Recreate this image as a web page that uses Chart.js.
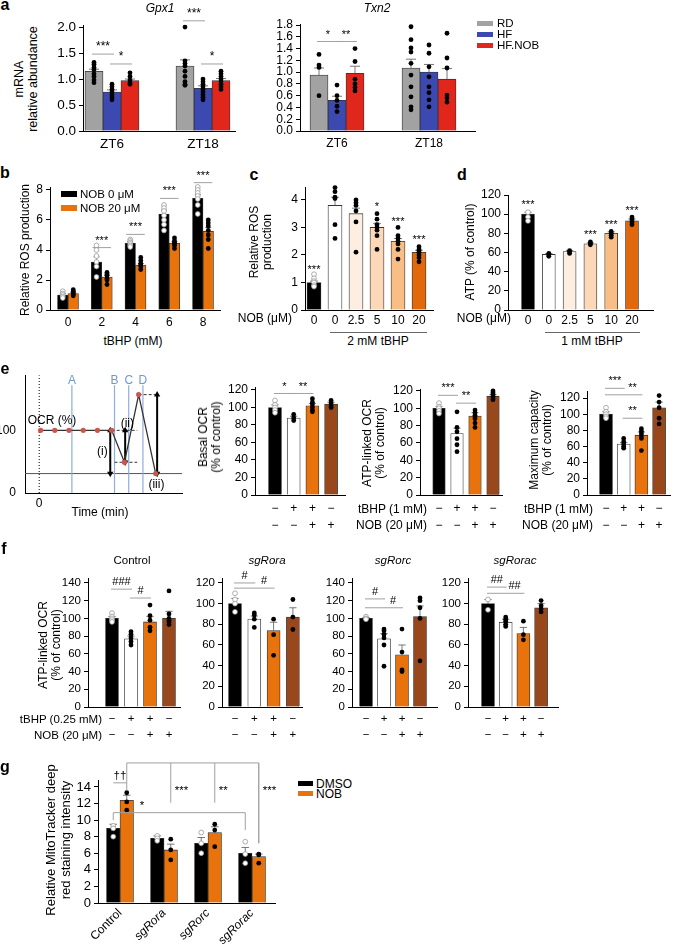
<!DOCTYPE html>
<html>
<head>
<meta charset="utf-8">
<script src="https://cdn.jsdelivr.net/npm/chart.js@4.4.1/dist/chart.umd.min.js"></script>
<style>
body{margin:0;background:#fff}
#fig{position:relative;width:676px;height:944px;overflow:hidden;font-family:"Liberation Sans",Arial,sans-serif;color:#000}
#fig canvas{position:absolute}
.t{position:absolute;font-size:11.5px;line-height:13px;white-space:nowrap}
.box{position:absolute}
</style>
</head>
<body>
<div id="fig"></div>
<script>
// ---- a: mRNA ----
const aCats = ['ZT6', 'ZT18'];
const aNames = ['RD', 'HF', 'HF.NOB'];
const aColors = ['#a2a2a2', '#3b49b0', '#e1261c'];
const gpxRD = [1.15, 1.25], gpxRDerr = [0.04, 0.12];
const gpxRDdots = [[1.32, 1.28, 1.22, 1.18, 1.1, 1.05, 0.98, 0.93], [2.0, 1.35, 1.3, 1.25, 1.15, 1.05, 0.95, 0.9, 0.88]];
const gpxHF = [0.75, 0.82], gpxHFerr = [0.04, 0.05];
const gpxHFdots = [[0.9, 0.85, 0.8, 0.75, 0.7, 0.65, 0.6], [1.0, 0.95, 0.9, 0.85, 0.8, 0.75, 0.7, 0.65, 0.6]];
const gpxNOB = [0.97, 0.97], gpxNOBerr = [0.03, 0.04];
const gpxNOBdots = [[1.12, 1.05, 0.98, 0.93, 0.9], [1.15, 1.1, 1.05, 1.0, 0.95, 0.9, 0.85, 0.8]];
const txnRD = [0.95, 1.07], txnRDerr = [0.12, 0.15];
const txnRDdots = [[1.3, 1.12, 1.08, 0.6], [1.77, 1.55, 1.41, 1.34, 1.15, 0.95, 0.75, 0.58, 0.41, 0.36]];
const txnHF = [0.52, 1.0], txnHFerr = [0.07, 0.13];
const txnHFdots = [[0.78, 0.6, 0.52, 0.42, 0.33], [1.46, 1.32, 1.09, 0.92, 0.75, 0.65, 0.53, 0.41]];
const txnNOB = [0.98, 0.88], txnNOBerr = [0.12, 0.18];
const txnNOBdots = [[1.4, 1.18, 0.88, 0.8, 0.74, 0.68], [1.66, 1.24, 1.07, 0.61, 0.56, 0.49]];

// ---- b: ROS vs tBHP ----
const bCats = ['0', '2', '4', '6', '8'];
const rosNob0 = [1.0, 3.2, 4.45, 6.4, 7.45], rosNob0err = [0.1, 0.35, 0.1, 0.25, 0.25];
const rosNob0dots = [[1.25, 1.1, 1.0, 0.9, 0.8], [4.3, 4.0, 3.6, 3.2, 2.9, 2.2], [4.7, 4.6, 4.5, 4.4, 4.3, 4.2], [7.0, 6.8, 6.6, 6.3, 6.0, 5.7, 5.3], [8.2, 8.0, 7.8, 7.6, 7.4, 7.0, 6.4]];
const rosNob20 = [1.1, 2.2, 3.0, 4.45, 5.25], rosNob20err = [0.08, 0.12, 0.1, 0.12, 0.25];
const rosNob20dots = [[1.35, 1.25, 1.15, 1.05, 0.95], [2.5, 2.4, 2.3, 2.1, 2.0, 1.7], [3.5, 3.3, 3.1, 3.0, 2.9, 2.7], [4.8, 4.6, 4.5, 4.4, 4.3, 4.1], [6.0, 5.8, 5.6, 5.3, 5.0, 4.7, 4.1]];

// ---- c, d: NOB dose ----
const doseCats = ['0', '0', '2.5', '5', '10', '20'];
const doseColors = ['#000', '#fff', '#fdeee2', '#fcd8b8', '#f9bd86', '#e2680c'];
const cRos = [1.0, 3.8, 3.5, 3.0, 2.5, 2.1], cRosErr = [0.05, 0.3, 0.2, 0.15, 0.1, 0.07];
const cRosDots = [[1.3, 1.15, 1.05, 1.0, 0.9, 0.85], [4.45, 4.3, 4.1, 4.05, 3.1, 2.6], [4.0, 3.9, 3.8, 3.6, 3.2, 2.1], [3.5, 3.3, 3.1, 3.0, 2.9, 2.7, 2.2], [3.0, 2.7, 2.6, 2.5, 2.4, 2.2, 1.85], [2.3, 2.2, 2.15, 2.1, 2.0, 1.9, 1.75]];
const dAtp = [100, 58, 61, 69, 80, 93], dAtpErr = [2, 1, 1, 1, 1.5, 2];
const dAtpDots = [[102, 97, 93], [59, 57.5, 56], [62, 60.5, 59], [71, 69.5, 68], [82, 80, 78, 76], [97, 95, 93, 91, 89]];

// ---- e: OCR ----
const ocrTime = [0.1, 1.1, 2.1, 3.1, 4.1, 5.1, 6, 7, 8.2];
const ocrPct = [100, 100, 100, 100, 100, 100, 49, 157, 31];
const injTime = [2.3, 5.3, 6.3, 7.3];
const injName = ['A', 'B', 'C', 'D'];
const nonMito = 31;
const dashLines = [[5.1, 6.9, 100], [5.3, 6.9, 49], [7, 8.3, 157]];   // from, to, level
const arrows = [[5.0, 100, 31], [6.05, 49, 100], [8.3, 157, 31]];      // time, from, to
const schemNotes = [['OCR (%)', 0.9, 116], ['(i)', 4.45, 66], ['(ii)', 6.2, 111], ['(iii)', 8.25, 13]];

const signLabels = [['\u2212', '\u2212'], ['+', '\u2212'], ['+', '+'], ['\u2212', '+']];
const treatColors = ['#000', '#fff', '#e8720c', '#98481b'];
const basal = [100, 88, 102, 104], basalErr = [3, 2, 2.5, 2];
const basalDots = [[108, 103, 100, 97, 94], [92, 88, 85], [110, 106, 103, 100, 97, 95], [108, 105, 102, 100]];
const atpOcr = [100, 71, 91, 114], atpOcrErr = [2, 6, 4, 2];
const atpOcrDots = [[106, 102, 100, 97, 94], [96, 78, 73, 65, 58, 50], [98, 95, 92, 90, 88, 83, 78], [120, 118, 116, 114, 112, 110]];
const maxCap = [100, 63, 74, 108], maxCapErr = [3, 2, 4, 7];
const maxCapDots = [[108, 103, 100, 97, 95], [70, 66, 63, 60, 58], [82, 79, 76, 73, 70, 55], [123, 115, 108, 95, 88]];

// ---- f: knockouts ----
const fCtrl = [100, 77, 96, 100], fCtrlErr = [2, 3, 6, 8];
const fCtrlDots = [[106, 102, 100, 98, 96], [85, 82, 78, 74, 70], [115, 103, 98, 90, 86], [131, 105, 100, 98, 96, 93]];
const fRora = [100, 85, 74, 87], fRoraErr = [5, 3, 8, 9];
const fRoraDots = [[110, 104, 100, 92], [91, 89, 85, 77], [85, 70, 50], [104, 87, 75]];
const fRorc = [100, 77, 59, 102], fRorcErr = [1, 6, 11, 12];
const fRorcDots = [[102, 100, 99], [88, 86, 82, 78, 70, 46], [88, 62, 42, 40], [123, 120, 112, 100, 52]];
const fRorac = [100, 82, 71, 96], fRoracErr = [4, 3, 6, 4];
const fRoracDots = [[104, 94], [87, 85, 83, 80, 78], [83, 70, 65], [103, 98, 95, 92]];

// ---- g: MitoTracker ----
const gCats = ['Control', 'sgRora', 'sgRorc', 'sgRorac'];
const gDmso = [9.0, 7.8, 7.2, 6.0], gDmsoErr = [0.5, 0.3, 0.7, 0.7];
const gDmsoDots = [[9.3, 9.0, 8.0], [8.1, 7.8, 7.5], [8.5, 7.2, 6.0], [7.4, 5.9, 4.8]];
const gNob = [12.4, 6.4, 8.5, 5.6], gNobErr = [0.6, 0.7, 0.7, 0.3];
const gNobDots = [[13.3, 12.2, 11.2], [7.7, 6.4, 5.2], [9.5, 8.8, 6.8], [5.9, 5.8, 4.8]];

// significance marks: a/b = [dataset, bar], y = line level, ty = text level
const gpxSig = [{a: [0, 0], b: [1, 0], y: 1.48, t: '***'}, {a: [1, 0], b: [2, 0], y: 1.29, t: '*'}, {a: [0, 1], b: [1, 1], y: 2.12, t: '***'}, {a: [1, 1], b: [2, 1], y: 1.29, t: '*'}];
const txnSig = [{a: [0, 0], b: [1, 0], y: 1.52, t: '*'}, {a: [1, 0], b: [2, 0], y: 1.52, t: '**'}];
const bSig = [{a: [0, 1], b: [1, 1], y: 4.16, t: '***'}, {a: [0, 2], b: [1, 2], y: 5.04, t: '***'}, {a: [0, 3], b: [1, 3], y: 7.44, t: '***'}, {a: [0, 4], b: [1, 4], y: 8.49, t: '***'}];
const cSig = [{a: [0, 0], ty: 1.45, t: '***'}, {a: [0, 3], ty: 3.75, t: '*'}, {a: [0, 4], ty: 3.2, t: '***'}, {a: [0, 5], ty: 2.55, t: '***'}];
const dSig = [{a: [0, 0], ty: 110, t: '***'}, {a: [0, 3], ty: 78, t: '***'}, {a: [0, 4], ty: 89, t: '***'}, {a: [0, 5], ty: 103, t: '***'}];
const basalSig = [{a: [0, 0], b: [0, 1], y: 116, t: '*'}, {a: [0, 1], b: [0, 2], y: 116, t: '**'}];
const atpSig = [{a: [0, 0], b: [0, 1], y: 115, t: '***'}, {a: [0, 1], b: [0, 2], y: 106, t: '**'}];
const maxSig = [{a: [0, 0], b: [0, 1], y: 132, t: '***'}, {a: [0, 0], b: [0, 2], y: 124, t: '**', ta: [0, 1], tb: [0, 2]}, {a: [0, 1], b: [0, 2], y: 95, t: '**'}];
const fCtrlSig = [{a: [0, 0], b: [0, 1], y: 133, t: '###'}, {a: [0, 1], b: [0, 2], y: 123, t: '#'}];
const fRoraSig = [{a: [0, 0], b: [0, 1], y: 120, t: '#'}, {a: [0, 0], b: [0, 2], y: 115, t: '#', ta: [0, 1], tb: [0, 2]}];
const fRorcSig = [{a: [0, 0], b: [0, 1], y: 122, t: '#'}, {a: [0, 0], b: [0, 2], y: 112, t: '#', ta: [0, 1], tb: [0, 2]}];
const fRoracSig = [{a: [0, 0], b: [0, 1], y: 116, t: '##'}, {a: [0, 0], b: [0, 2], y: 110, t: '##', ta: [0, 1], tb: [0, 2]}];
const gSig = [
  {a: [0, 0], b: [1, 0], y: 14.5, t: '\u2020\u2020'},
  {a: [1, 0], b: [1, 3], y: 16.9, d1: 13.6, d2: 7.2},
  {a: [1, 1], y: 16.9, d1: 12.1, t: '***', ty: 13.5, al: 'left'},
  {a: [1, 2], y: 16.9, d1: 12.1, t: '**', ty: 13.5, al: 'left'},
  {a: [1, 3], y: 16.9, d1: 7.2, t: '***', ty: 13.5, al: 'left'},
  {a: [0, 0], b: [0, 3], y: 10.9, d1: 10.0, d2: 8.8, t: '*', ta: [1, 0], tb: [0, 1]}
];

const FONT = '"Liberation Sans", Arial, sans-serif';
Chart.defaults.font.family = FONT;
Chart.defaults.font.size = 11.5;
Chart.defaults.color = '#000';
const fig = document.getElementById('fig');

// error bars, dots and significance marks on top of the bars
function marks(sig, pad, fs) {
  return {
    id: 'marks',
    afterDatasetsDraw(chart) {
      const ctx = chart.ctx, ys = chart.scales.y;
      const bx = r => chart.getDatasetMeta(r[0]).data[r[1]].x;
      ctx.save();
      chart.data.datasets.forEach((ds, di) => {
        chart.getDatasetMeta(di).data.forEach((bar, i) => {
          const v = ds.data[i];
          if (ds.err) {
            const top = ys.getPixelForValue(v + ds.err[i]);
            const cw = bar.width * 0.28;
            ctx.strokeStyle = '#555';
            ctx.lineWidth = 0.8;
            ctx.beginPath();
            ctx.moveTo(bar.x, bar.y); ctx.lineTo(bar.x, top);
            ctx.moveTo(bar.x - cw, top); ctx.lineTo(bar.x + cw, top);
            ctx.stroke();
          }
          if (ds.dots) {
            const fill = Array.isArray(ds.backgroundColor) ? ds.backgroundColor[i] : ds.backgroundColor;
            const open = fill === '#000';
            ds.dots[i].forEach(p => {
              ctx.beginPath();
              ctx.arc(bar.x, ys.getPixelForValue(p), 2.4, 0, Math.PI * 2);
              ctx.fillStyle = open ? '#fff' : '#000';
              ctx.fill();
              if (open) { ctx.strokeStyle = '#999'; ctx.lineWidth = 0.8; ctx.stroke(); }
            });
          }
        });
      });
      ctx.font = fs + 'px ' + FONT;
      ctx.fillStyle = '#000';
      ctx.textBaseline = 'middle';
      (sig || []).forEach(g => {
        const xa = bx(g.a), xb = g.b ? bx(g.b) : xa;
        let py = null;
        if (g.y != null) {
          py = ys.getPixelForValue(g.y);
          const p = g.d1 != null ? 0 : pad;
          ctx.strokeStyle = '#a0a0a0';
          ctx.lineWidth = 1;
          ctx.beginPath();
          if (xa !== xb) { ctx.moveTo(xa - p, py); ctx.lineTo(xb + p, py); }
          if (g.d1 != null) { ctx.moveTo(xa, py); ctx.lineTo(xa, ys.getPixelForValue(g.d1)); }
          if (g.d2 != null) { ctx.moveTo(xb, py); ctx.lineTo(xb, ys.getPixelForValue(g.d2)); }
          ctx.stroke();
        }
        if (g.t) {
          let x = g.ta ? (bx(g.ta) + bx(g.tb)) / 2 : (xa + xb) / 2;
          const y = g.ty != null ? ys.getPixelForValue(g.ty) : py - 7;
          ctx.textAlign = g.al === 'left' ? 'left' : 'center';
          if (g.al === 'left') x = xa + 4;
          ctx.fillText(g.t, x, y);
        }
      });
      ctx.restore();
    }
  };
}

function canvasAt(left, top, w, h) {
  const c = document.createElement('canvas');
  c.width = w; c.height = h;
  c.style.left = left + 'px'; c.style.top = top + 'px';
  c.style.width = w + 'px'; c.style.height = h + 'px';
  fig.appendChild(c);
  return c;
}

// box = plot area [left, top, right, bottom]; xc = [first category centre, spacing]
function barChart(s) {
  const [l, t, r, b] = s.box;
  const yW = 36, padT = s.padT || 12, padR = s.padR || 8, xH = s.xH || 20;
  const fs = s.fs || 11.5;
  const w = r - l + yW + padR, h = b - t + padT + xH;
  const c = canvasAt(l - yW, t - padT, w, h);
  const x0 = -(s.xc[0] - l) / s.xc[1], xr = (r - l) / s.xc[1];
  return new Chart(c, {
    type: 'bar',
    data: {
      labels: s.labels,
      datasets: s.sets.map(d => ({
        data: d.data, err: d.err, dots: d.dots,
        backgroundColor: d.color, borderColor: '#333', borderWidth: 0.8,
        barThickness: s.bt
      }))
    },
    options: {
      responsive: false, animation: false, events: [],
      layout: {padding: {left: 0, top: padT, right: padR, bottom: 0}},
      plugins: {legend: {display: false}, tooltip: {enabled: false}},
      scales: {
        x: {
          grid: {display: false, drawTicks: false, tickLength: 0},
          border: {color: '#000', width: 1},
          ticks: {padding: s.xPad || 3, autoSkip: false, maxRotation: s.rot || 0, minRotation: s.rot || 0,
                  font: s.xFont || {size: fs, lineHeight: 1.4}},
          afterBuildTicks: sc => { sc._startValue = x0; sc._valueRange = xr; },
          afterFit: sc => { sc.height = xH; }
        },
        y: {
          min: 0, max: s.yMax,
          ticks: {stepSize: s.yStep, includeBounds: false, autoSkip: false, padding: 3, callback: s.fmt || (v => v), font: {size: fs}},
          grid: {drawOnChartArea: false, drawTicks: true, tickLength: 4, color: '#000', lineWidth: 1},
          border: {color: '#000', width: 1},
          afterFit: sc => { sc.width = yW; }
        }
      }
    },
    plugins: [marks(s.sig, s.sigPad || 0, s.sfs || 11)]
  });
}

function tx(s, x, y, o = {}) {
  const d = document.createElement('div');
  d.className = 't';
  d.innerHTML = s;
  d.style.left = x + 'px'; d.style.top = y + 'px';
  if (o.size) { d.style.fontSize = o.size + 'px'; d.style.lineHeight = Math.round(o.size * 1.12) + 'px'; }
  if (o.b) d.style.fontWeight = 'bold';
  if (o.i) d.style.fontStyle = 'italic';
  if (o.col) d.style.color = o.col;
  const ax = o.al === 'l' ? '0' : o.al === 'r' ? '-100%' : '-50%';
  d.style.transform = 'translate(' + ax + ',-50%)' + (o.rot ? ' rotate(-90deg)' : '');
  if (o.rot) d.style.textAlign = 'center';
  fig.appendChild(d);
}
function rect(x, y, w, h, col) {
  const d = document.createElement('div');
  d.className = 'box';
  Object.assign(d.style, {left: x + 'px', top: y + 'px', width: w + 'px', height: h + 'px', background: col});
  fig.appendChild(d);
}

const f1 = v => v.toFixed(1);

// ---------- a ----------
barChart({box: [83, 25, 235, 131], yMax: 2.04, yStep: 0.5, fmt: f1, fs: 13.5, sfs: 12, labels: aCats, xc: [112, 91], bt: 18, padT: 20, xPad: 4, sig: gpxSig, sigPad: 2,
  sets: [{data: gpxRD, err: gpxRDerr, dots: gpxRDdots, color: aColors[0]}, {data: gpxHF, err: gpxHFerr, dots: gpxHFdots, color: aColors[1]}, {data: gpxNOB, err: gpxNOBerr, dots: gpxNOBdots, color: aColors[2]}]});
barChart({box: [300, 24, 475, 131], yMax: 1.817, yStep: 0.2, fmt: f1, fs: 12, labels: aCats, xc: [337, 92], bt: 18, padT: 12, xPad: 4, sig: txnSig, sigPad: 2,
  sets: [{data: txnRD, err: txnRDerr, dots: txnRDdots, color: aColors[0]}, {data: txnHF, err: txnHFerr, dots: txnHFdots, color: aColors[1]}, {data: txnNOB, err: txnNOBerr, dots: txnNOBdots, color: aColors[2]}]});

// ---------- b ----------
barChart({box: [50, 187, 220, 310], yMax: 8.2, yStep: 2, fs: 12, labels: bCats, xc: [68, 33.75], bt: 10.5, padT: 16, xPad: 4, sig: bSig, sigPad: 4,
  sets: [{data: rosNob0, err: rosNob0err, dots: rosNob0dots, color: '#000'}, {data: rosNob20, err: rosNob20err, dots: rosNob20dots, color: treatColors[2]}]});

// ---------- c, d ----------
barChart({box: [305, 187, 433, 310], yMax: 4.47, yStep: 1, fs: 12, labels: doseCats, xc: [314, 21], bt: 14, xPad: 2, sig: cSig,
  sets: [{data: cRos, err: cRosErr, dots: cRosDots, color: doseColors}]});
barChart({box: [508, 195, 653, 310], yMax: 120, yStep: 20, fs: 12, labels: doseCats, xc: [528, 20.8], bt: 13, xPad: 2, sig: dSig,
  sets: [{data: dAtp, err: dAtpErr, dots: dAtpDots, color: doseColors}]});

// ---------- e: schematic ----------
(function () {
  const l = 25, t = 367, r = 182, b = 493, yW = 34, padT = 8, padR = 8, xH = 18;
  const c = canvasAt(l - yW, t - padT, r - l + yW + padR, b - t + padT + xH);
  const seg = (pts, extra) => Object.assign({data: pts, showLine: true, pointRadius: 0, borderWidth: 1, fill: false}, extra);
  const ds = [];
  ds.push(seg(ocrTime.map((x, i) => ({x, y: ocrPct[i]})), {borderColor: '#333', borderWidth: 1.3, pointRadius: 2.6, pointBackgroundColor: '#c9574b', pointBorderWidth: 0}));
  arrows.forEach(a => ds.push(seg([{x: a[0], y: a[1]}, {x: a[0], y: a[2]}], {borderColor: '#000', borderWidth: 2, pointStyle: 'triangle', pointRadius: 3.6, pointBackgroundColor: '#000', pointBorderWidth: 0, pointRotation: a[2] > a[1] ? [180, 0] : [0, 180]})));
  dashLines.forEach(d => ds.push(seg([{x: d[0], y: d[2]}, {x: d[1], y: d[2]}], {borderColor: '#333', borderDash: [3, 2]})));
  injTime.forEach(x => ds.push(seg([{x, y: 0}, {x, y: 172}], {borderColor: '#8eaedb', borderWidth: 1.2})));
  ds.push(seg([{x: -1, y: nonMito}, {x: 10.05, y: nonMito}], {borderColor: '#555'}));
  ds.push(seg([{x: 0, y: 0}, {x: 0, y: 188}], {borderColor: '#000', borderDash: [1, 2]}));
  new Chart(c, {
    type: 'scatter',
    data: {datasets: ds},
    options: {
      responsive: false, animation: false, events: [],
      layout: {padding: {left: 0, top: padT, right: padR, bottom: 0}},
      plugins: {legend: {display: false}, tooltip: {enabled: false}},
      scales: {
        x: {type: 'linear', min: -1, max: 10.05, grid: {display: false, drawTicks: false, tickLength: 0}, border: {color: '#000'},
            ticks: {padding: 3, font: {size: 12}}, afterBuildTicks: sc => { sc.ticks = [{value: 0}]; }, afterFit: sc => { sc.height = xH; }},
        y: {min: 0, max: 188, grid: {display: false, drawTicks: false, tickLength: 0}, border: {color: '#000'},
            ticks: {padding: 9, font: {size: 12}}, afterBuildTicks: sc => { sc.ticks = [{value: 0}, {value: 100}]; }, afterFit: sc => { sc.width = yW; }}
      }
    },
    plugins: [{
      id: 'notes',
      afterDatasetsDraw(chart) {
        const ctx = chart.ctx, xs = chart.scales.x, ys = chart.scales.y;
        ctx.save();
        ctx.textAlign = 'center'; ctx.textBaseline = 'middle';
        ctx.font = '12px ' + FONT;
        ctx.fillStyle = '#7099cf';
        injName.forEach((n, k) => ctx.fillText(n, xs.getPixelForValue(injTime[k]), ys.getPixelForValue(180)));
        ctx.fillStyle = '#000';
        schemNotes.forEach(n => ctx.fillText(n[0], xs.getPixelForValue(n[1]), ys.getPixelForValue(n[2])));
        ctx.restore();
      }
    }]
  });
})();

// ---------- e: bars ----------
const signFont = {size: 12, lineHeight: 1.35};
barChart({box: [255, 387, 345, 495], yMax: 123.4, yStep: 20, fs: 12, labels: signLabels, xc: [275, 18.7], bt: 13, xH: 40, padT: 20, xPad: 6, xFont: signFont, sig: basalSig, sigPad: 1,
  sets: [{data: basal, err: basalErr, dots: basalDots, color: treatColors}]});
barChart({box: [420, 389, 502, 495], yMax: 122.3, yStep: 20, fs: 12, labels: signLabels, xc: [439, 18], bt: 12.5, xH: 40, padT: 20, xPad: 6, xFont: signFont, sig: atpSig, sigPad: 1,
  sets: [{data: atpOcr, err: atpOcrErr, dots: atpOcrDots, color: treatColors}]});
barChart({box: [587, 391, 670, 495], yMax: 128.7, yStep: 20, fs: 12, labels: signLabels, xc: [606, 17.7], bt: 13, xH: 40, padT: 20, xPad: 6, xFont: signFont, sig: maxSig, sigPad: 1,
  sets: [{data: maxCap, err: maxCapErr, dots: maxCapDots, color: treatColors}]});

// ---------- f ----------
const signFontF = {size: 11.5, lineHeight: 1.4};
barChart({box: [88, 578, 180, 707], yMax: 145.6, yStep: 20, labels: signLabels, xc: [112, 19], bt: 13, xH: 40, padT: 16, xPad: 4, xFont: signFontF, sig: fCtrlSig, sigPad: 1,
  sets: [{data: fCtrl, err: fCtrlErr, dots: fCtrlDots, color: treatColors}]});
barChart({box: [222, 578, 302, 707], yMax: 124.8, yStep: 20, labels: signLabels, xc: [235, 19.3], bt: 13, xH: 40, padT: 16, xPad: 4, xFont: signFontF, sig: fRoraSig, sigPad: 1,
  sets: [{data: fRora, err: fRoraErr, dots: fRoraDots, color: treatColors}]});
barChart({box: [352, 578, 437, 707], yMax: 145.6, yStep: 20, labels: signLabels, xc: [366, 18], bt: 13, xH: 40, padT: 16, xPad: 4, xFont: signFontF, sig: fRorcSig, sigPad: 1,
  sets: [{data: fRorc, err: fRorcErr, dots: fRorcDots, color: treatColors}]});
barChart({box: [468, 578, 558, 707], yMax: 124.8, yStep: 20, labels: signLabels, xc: [488, 17.7], bt: 13, xH: 40, padT: 16, xPad: 4, xFont: signFontF, sig: fRoracSig, sigPad: 1,
  sets: [{data: fRorac, err: fRoracErr, dots: fRoracDots, color: treatColors}]});

// ---------- g ----------
barChart({box: [98, 780, 275, 903], yMax: 14.84, yStep: 2, fs: 13, labels: gCats, xc: [120, 44], bt: 13.5, xH: 41, padT: 22, xPad: 3, rot: 45,
  xFont: ctx => ({size: 12, style: ctx.index > 0 ? 'italic' : 'normal'}), sig: gSig, sigPad: 0, sfs: 11.5,
  sets: [{data: gDmso, err: gDmsoErr, dots: gDmsoDots, color: '#000'}, {data: gNob, err: gNobErr, dots: gNobDots, color: treatColors[2]}]});

// ---------- text ----------
[['a', 5, 5], ['b', 5, 173], ['c', 254, 175], ['d', 462, 175], ['e', 5, 369], ['f', 4, 549], ['g', 5, 767]]
  .forEach(p => tx(p[0], p[1], p[2], {b: true, size: 16}));

tx('Gpx1', 160, 8, {i: true, size: 12});
tx('Txn2', 377, 8, {i: true, size: 12});
tx('mRNA<br>relative abundance', 26, 79, {rot: true, size: 12.5});
aNames.forEach((n, k) => { rect(477, 20.5 + k * 11, 16, 5, aColors[k]); tx(n, 497, 23 + k * 11, {al: 'l', size: 11.5}); });

tx('Relative ROS production', 25, 250, {rot: true, size: 12});
tx('tBHP (mM)', 133, 341, {size: 12});
rect(61, 191, 16, 5.5, '#000'); tx('NOB 0 \u03bcM', 80, 193.5, {al: 'l', size: 11.5});
rect(61, 205, 16, 5.5, treatColors[2]); tx('NOB 20 \u03bcM', 80, 208, {al: 'l', size: 11.5});

tx('Relative ROS<br>production', 261, 242, {rot: true, size: 12});
tx('NOB (\u03bcM)', 292, 318, {al: 'r', size: 12});
rect(330, 332, 97, 1, '#666'); tx('2 mM tBHP', 378, 341, {size: 12});
tx('ATP (% of control)', 470, 252, {rot: true, size: 12});
tx('NOB (\u03bcM)', 511, 318, {al: 'r', size: 12});
rect(545, 332, 95, 1, '#666'); tx('1 mM tBHP', 592, 341, {size: 12});

tx('Time (min)', 100, 512, {size: 12});
tx('Basal OCR<br>(% of control)', 210, 437, {rot: true, size: 12});
tx('ATP-linked OCR<br>(% of control)', 374, 443, {rot: true, size: 12});
tx('Maximum capacity<br>(% of control)', 541, 440, {rot: true, size: 12});
tx('tBHP (1 mM)', 427, 509, {al: 'r', size: 12}); tx('NOB (20 \u03bcM)', 427, 525, {al: 'r', size: 12});
tx('tBHP (1 mM)', 593, 509, {al: 'r', size: 12}); tx('NOB (20 \u03bcM)', 593, 525, {al: 'r', size: 12});

tx('Control', 132, 560);
tx('sgRora', 267, 560, {i: true});
tx('sgRorc', 393, 560, {i: true});
tx('sgRorac', 515, 560, {i: true});
tx('ATP-linked OCR<br>(% of control)', 50, 645, {rot: true, size: 12});
tx('tBHP (0.25 mM)', 102, 719, {al: 'r'}); tx('NOB (20 \u03bcM)', 102, 735, {al: 'r'});

tx('Relative MitoTracker deep<br>red staining intensity', 58, 840, {rot: true, size: 13});
rect(298, 781, 15, 5, '#000'); tx('DMSO', 316, 783.5, {al: 'l', size: 12});
rect(298, 791, 15, 5, treatColors[2]); tx('NOB', 316, 793.5, {al: 'l', size: 12});
</script>
</body>
</html>
